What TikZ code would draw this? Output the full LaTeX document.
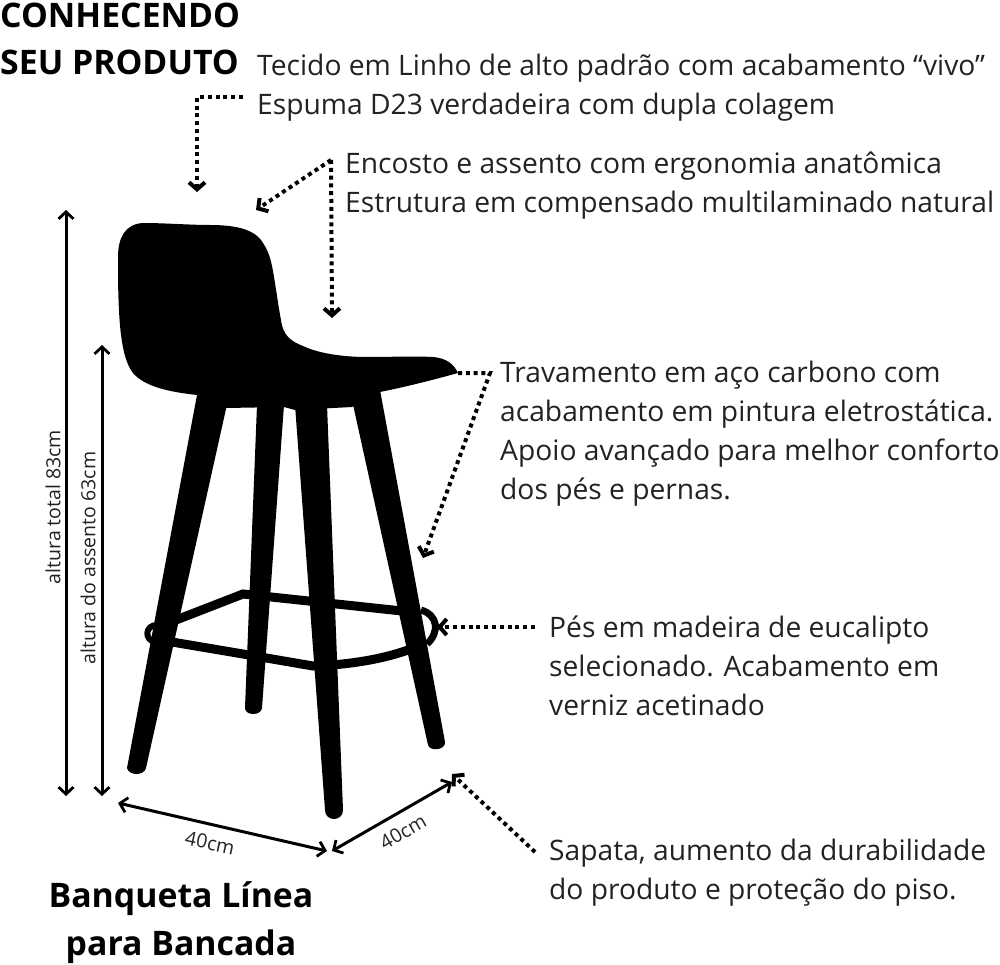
\documentclass[tikz,border=0pt]{standalone}
\usepackage{fontspec}
\setmainfont{Open Sans}
\usetikzlibrary{arrows.meta}
\definecolor{ink}{HTML}{222222}
\tikzset{
  body/.style={anchor=west,align=left,inner sep=0pt,text=ink,font=\fontsize{28.2}{39}\selectfont},
  headtext/.style={inner sep=0pt,text=black,font=\fontsize{33.8}{47}\selectfont\bfseries},
  dimtext/.style={inner sep=0pt,text=ink,font=\fontsize{19.5}{22}\selectfont},
  dimline/.style={line width=3pt,draw=black,{Straight Barb[length=7pt,width=15pt,line width=2.8pt]}-{Straight Barb[length=7pt,width=15pt,line width=2.8pt]}},
  dots/.style={line width=4pt,draw=black,dash pattern=on 4pt off 3.8pt},
  dotend/.style={dots,-{Straight Barb[length=7pt,width=16pt,line width=4pt]}},
  solid part/.style={fill=black,draw=none},
  bar/.style={draw=black,line width=9pt},
}
\begin{document}
\begin{tikzpicture}[x=1pt,y=-1pt]
\useasboundingbox (0,0) rectangle (1000,965);
% chair: seat shell
\path[solid part] (143,223) .. controls (165,223) and (190,225) .. (210,225)
  .. controls (235,225) and (255,229) .. (263,243)
  .. controls (270,253) and (272,265) .. (274,277)
  .. controls (277,295) and (279,310) .. (281,320)
  .. controls (283,335) and (290,341) .. (303,346)
  .. controls (320,354) and (345,357) .. (367,357)
  .. controls (390,357) and (415,356) .. (433,357)
  .. controls (446,358) and (454,364) .. (458,373)
  .. controls (440,378) and (410,386) .. (380,392)
  -- (352,407) -- (295,410) -- (284,407) -- (226,408) -- (197,395)
  .. controls (170,392) and (145,387) .. (133,373)
  .. controls (126,364) and (123,350) .. (121,335)
  .. controls (118,310) and (118,280) .. (118,257)
  .. controls (118,238) and (125,224) .. (143,223) -- cycle;
% legs
\path[solid part] (197,395) -- (228,400) -- (146,768) .. controls (144,776) and (129,776) .. (127,768) -- cycle;
\path[solid part] (257,405) -- (284,405) -- (262,708) .. controls (261,716) and (245,716) .. (245,708) -- cycle;
\path[solid part] (295,405) -- (327,405) -- (343,810) .. controls (343,822) and (325,822) .. (325,810) -- cycle;
\path[solid part] (352,400) -- (380,390) -- (445,742) .. controls (446,750) and (430,752) .. (428,745) -- cycle;
% footrest
\draw[bar] (176,620) -- (243,594) -- (402,611);
\draw[bar] (172,642) -- (243,654) -- (313,666) .. controls (345,665) and (380,660) .. (408,650);
\draw[draw=black,line width=6pt] (157,625) .. controls (145,625) and (144,640) .. (155,642);
\draw[draw=black,line width=7pt] (421,610) .. controls (438,615) and (440,632) .. (427,644);
% measure arrows
\coordinate (totTop) at (66,210);
\coordinate (totBot) at (66,796);
\coordinate (seatTop) at (102,345);
\coordinate (seatBot) at (102,796);
\coordinate (wLeft) at (118,803);
\coordinate (wRight) at (327,851);
\coordinate (dLeft) at (332,851);
\coordinate (dRight) at (452,782);
\draw[dimline] (totTop) -- (totBot);
\draw[dimline] (seatTop) -- (seatBot);
\draw[dimline] (wLeft) -- (wRight);
\draw[dimline] (dLeft) -- (dRight);
\node[dimtext,rotate=90] (lblTotal) at (53,507) {altura total 83cm};
\node[dimtext,rotate=90] (lblSeat) at (88,558) {altura do assento 63cm};
\node[dimtext,rotate=-12] (lblW) at (210,843) {40cm};
\node[dimtext,rotate=30] (lblD) at (403,832) {40cm};
% titles
\node[headtext,anchor=west,align=left] (title) at (0,39) {CONHECENDO\\SEU PRODUTO};
\node[headtext,align=center,font=\fontsize{33.8}{48}\selectfont\bfseries] (product) at (181,923) {Banqueta Línea\\para Bancada};
% descriptions
\node[body] (t1) at (257,87.5) {Tecido em Linho de alto padrão com acabamento “vivo”\\Espuma D23 verdadeira com dupla colagem};
\node[body] (t2) at (345,185.5) {Encosto e assento com ergonomia anatômica\\Estrutura em compensado multilaminado natural};
\node[body] (t3) at (500,433.5) {Travamento em aço carbono com\\acabamento em pintura eletrostática.\\Apoio avançado para melhor conforto\\dos pés e pernas.};
\node[body] (t4) at (549,665.5) {Pés em madeira de eucalipto\\selecionado. Acabamento em\\verniz acetinado};
\node[body] (t5) at (549,873) {Sapata, aumento da durabilidade\\do produto e proteção do piso.};
% dotted connectors
\coordinate (a1s) at (243,97);
\coordinate (a1c) at (197,97);
\coordinate (a1e) at (197,192);
\coordinate (a2s) at (331,160);
\coordinate (a2e) at (256,210);
\coordinate (a3e) at (332,318);
\coordinate (a4s) at (458,373);
\coordinate (a4c) at (490,373);
\coordinate (a4e) at (423,558);
\coordinate (a5s) at (535,627);
\coordinate (a5e) at (437,627);
\coordinate (a6s) at (535,852);
\coordinate (a6e) at (452,774);
\draw[dotend] (a1s) -- (a1c) -- (a1e);
\draw[dotend] (a2s) -- (a2e);
\draw[dotend] (a2s) -- (a3e);
\draw[dotend] (a4s) -- (a4c) -- (a4e);
\draw[dotend] (a5s) -- (a5e);
\draw[dotend] (a6s) -- (a6e);
\end{tikzpicture}
\end{document}
